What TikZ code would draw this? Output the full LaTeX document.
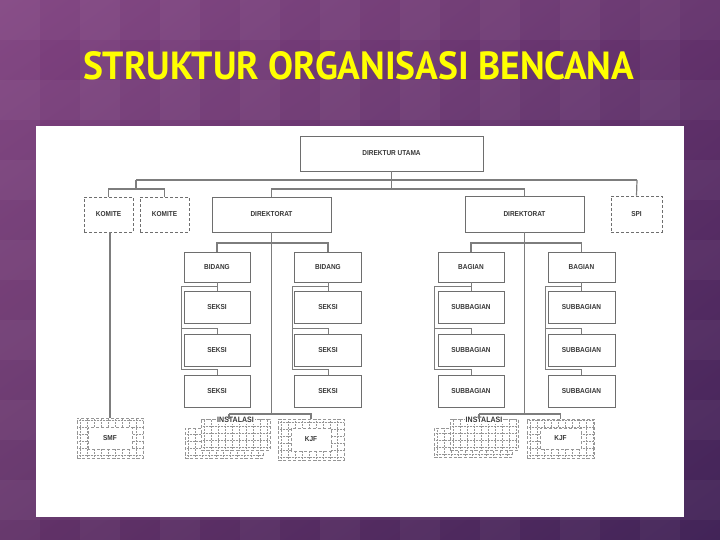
\documentclass[tikz,border=0pt]{standalone}
\usepackage{graphicx}
\usepackage{fontspec}
\setmainfont{Liberation Sans}
\newfontfamily\titlefont{PT Sans}
\newfontfamily\chartfont{Liberation Sans}[FakeStretch=0.9]
\usetikzlibrary{calc,shadings}
\definecolor{bgul}{RGB}{128,66,128}
\definecolor{bgur}{RGB}{100,50,108}
\definecolor{bgll}{RGB}{98,50,104}
\definecolor{bglr}{RGB}{66,36,88}
\definecolor{ttl}{RGB}{255,255,0}
\definecolor{linec}{RGB}{125,125,125}
\definecolor{boxc}{RGB}{110,110,110}
\definecolor{txtc}{RGB}{55,55,55}
\definecolor{gridc}{RGB}{150,150,150}
\tikzset{
  box/.style={draw=boxc, line width=0.9pt, fill=white, text=txtc,
    font=\chartfont\bfseries\fontsize{7.2}{8}\selectfont, inner sep=0pt, align=center},
  dbox/.style={box, densely dashed, line width=0.7pt},
  sz/.style 2 args={minimum width=#1, minimum height=#2},
  conn/.style={draw=linec, line width=1.2pt},
  bconn/.style={draw=linec, line width=0.8pt},
  gridall/.style={path picture={
    \foreach \k in {0,...,12}{
      \draw[gridc,densely dotted,line width=0.5pt]
        ([xshift=\k*7pt+3pt]path picture bounding box.south west) --
        ([xshift=\k*7pt+3pt]path picture bounding box.north west);
      \draw[gridc,densely dotted,line width=0.5pt]
        ([yshift=\k*7pt+3pt]path picture bounding box.south west) --
        ([yshift=\k*7pt+3pt]path picture bounding box.south east);
    }}},
  gridhole/.style 2 args={path picture={
    \foreach \k in {0,...,12}{
      \draw[gridc,densely dotted,line width=0.5pt]
        ([xshift=\k*7pt+3pt]path picture bounding box.south west) --
        ([xshift=\k*7pt+3pt]path picture bounding box.north west);
      \draw[gridc,densely dotted,line width=0.5pt]
        ([yshift=\k*7pt+3pt]path picture bounding box.south west) --
        ([yshift=\k*7pt+3pt]path picture bounding box.south east);
    }
    \fill[white] ([xshift=#1,yshift=#2]path picture bounding box.south west)
      rectangle ([xshift=-#1,yshift=-#2]path picture bounding box.north east);
    \draw[gridc,densely dashed,line width=0.6pt]
      ([xshift=#1,yshift=#2]path picture bounding box.south west)
      rectangle ([xshift=-#1,yshift=-#2]path picture bounding box.north east);
    }},
  gbox/.style={dbox, draw=gridc},
  inslabel/.style={label={[font=\chartfont\bfseries\fontsize{7.8}{8}\selectfont, text=txtc,
    fill=white, inner sep=1pt, anchor=north, yshift=2.5pt]north:INSTALASI}}
}
\begin{document}
\begin{tikzpicture}[x=1pt,y=-1pt]
\useasboundingbox (0,0) rectangle (720,540);
% background
\shade[upper left=bgul, upper right=bgur, lower left=bgll, lower right=bglr]
  (0,0) rectangle (720,540);
\foreach \x in {0,80,...,700} \fill[white,opacity=0.035] (\x,0) rectangle ++(40,540);
\foreach \y in {0,80,...,530} \fill[white,opacity=0.035] (0,\y) rectangle ++(720,40);
% title
\node[text=ttl, font=\titlefont\bfseries, inner sep=0pt] (title) at (358.5,66)
  {\resizebox{551pt}{28pt}{STRUKTUR ORGANISASI BENCANA}};
% panel
\fill[white] (36,126) rectangle (684,517);

% top level
\node[box, sz={183}{35}] (du) at (391.5,153.5) {DIREKTUR UTAMA};
\node[dbox, sz={49}{35}] (kom1) at (108.5,214.5) {KOMITE};
\node[dbox, sz={49}{35}] (kom2) at (164.5,214.5) {KOMITE};
\node[box, sz={119}{35}] (dir1) at (271.5,214.5) {DIREKTORAT};
\node[box, sz={119}{36}] (dir2) at (524.5,214) {DIREKTORAT};
\node[dbox, sz={51}{36}] (spi) at (636.5,214) {SPI};

% bidang / bagian
\node[box, sz={66}{30}] (bid1) at (217,267) {BIDANG};
\node[box, sz={67}{30}] (bid2) at (328,267) {BIDANG};
\node[box, sz={66}{30}] (bag1) at (471,267) {BAGIAN};
\node[box, sz={67}{30}] (bag2) at (581.5,267) {BAGIAN};
\foreach \n/\y in {1/307,2/350,3/391}{
  \node[box, sz={66}{32}] (sk1\n) at (217,\y) {SEKSI};
  \node[box, sz={67}{32}] (sk2\n) at (328,\y) {SEKSI};
  \node[box, sz={66}{32}] (sb1\n) at (471,\y) {SUBBAGIAN};
  \node[box, sz={67}{32}] (sb2\n) at (581.5,\y) {SUBBAGIAN};
}

% bottom row
\node[gbox, sz={66}{40}, gridhole={11pt}{9pt}] (smf) at (110,438) {SMF};
\node[gbox, sz={78}{30}, gridall] (ins1b) at (224,443) {};
\node[gbox, sz={69}{31}, gridall, inslabel] (ins1) at (235.5,434.5) {};
\node[gbox, sz={66}{41}, gridhole={13pt}{9pt}] (kjf1) at (311,439.5) {KJF};
\node[gbox, sz={78}{29}, gridall] (ins2b) at (473,442.5) {};
\node[gbox, sz={68}{31}, gridall, inslabel] (ins2) at (484,434.5) {};
\node[gbox, sz={67}{39}, gridhole={13pt}{9pt}] (kjf2) at (560.5,438.5) {KJF};

% connectors, top
\coordinate (jL) at (136,180);
\coordinate (jR) at (637,180);
\coordinate (j1) at (391.5,189);
\coordinate (kb) at (136,189);
\draw[conn] (du.south) -- (j1);
\draw[conn] (jL) -- (jR);
\draw[conn] (jR) -- (spi.north);
\draw[conn] (jL) -- (kb);
\draw[conn] (kom1.north) -- (kom1.north |- kb) -- (kom2.north |- kb) -- (kom2.north);
\draw[conn] (dir1.north) -- (dir1.north |- j1) -- (dir2.north |- j1) -- (dir2.north);

% directorate trunks
\coordinate (t1) at (271.5,414);
\coordinate (t2) at (524.5,414);
\draw[conn] (dir1.south) -- (t1);
\draw[conn] (dir2.south) -- (t2);
\draw[conn] (bid1.north) -- (bid1.north |- 0,243) -- (bid2.north |- 0,243) -- (bid2.north);
\draw[conn] (bag1.north) -- (bag1.north |- 0,243) -- (bag2.north |- 0,243) -- (bag2.north);

% brackets to seksi / subbagian
\foreach \b/\s/\bx in {bid1/sk1/181, bid2/sk2/292, bag1/sb1/434, bag2/sb2/545}{
  \draw[bconn] (\b.south) -- (\s1.north);
  \draw[bconn] (\b.south |- 0,286) -- (\bx,286) -- (\bx,369)
     -- (\s3.north |- 0,369) -- (\s3.north);
  \draw[bconn] (\bx,328) -- (\s2.north |- 0,328) -- (\s2.north);
}

% bottom bars
\coordinate (i1) at (229,414);
\coordinate (i2) at (479,414);
\draw[conn] (i1) -- (kjf1.north |- i1) -- (kjf1.north);
\draw[conn] (i1) -- (i1 |- ins1.north);
\draw[conn] (i2) -- (kjf2.north |- i2) -- (kjf2.north);
\draw[conn] (i2) -- (i2 |- ins2.north);
\draw[conn] (smf.north |- kom1.south) -- (smf.north);
\end{tikzpicture}
\end{document}
